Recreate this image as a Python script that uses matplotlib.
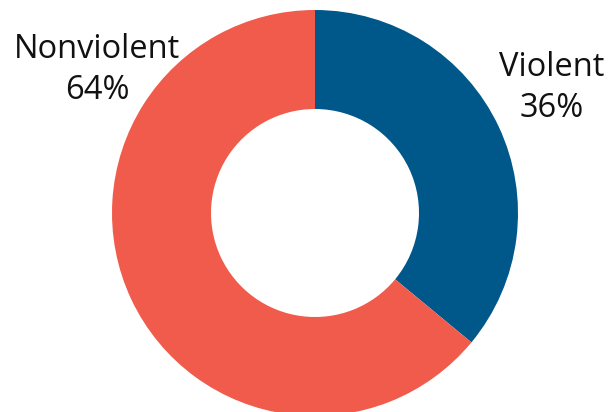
import matplotlib.pyplot as plt

categories = ["Violent", "Nonviolent"]
shares = [36, 64]
colors = ["#00578A", "#F05B4B"]

plt.rcParams['font.family'] = ['Open Sans', 'DejaVu Sans']

fig = plt.figure(figsize=(6.12, 4.12), dpi=100)
ax = fig.add_axes([0, 0, 1, 1])

ax.pie(shares, colors=colors, startangle=90, counterclock=False,
       center=(315, 199), radius=203, frame=True,
       wedgeprops=dict(width=99, linewidth=0))
ax.set_xlim(0, 612)
ax.set_ylim(0, 412)
ax.set_aspect('equal')
ax.axis('off')

label_pos = [(552, 324), (97, 342)]
for name, val, (x, y) in zip(categories, shares, label_pos):
    ax.text(x, y, f"{name}\n{val}%", ha='center', va='center',
            fontsize=23.5, linespacing=1.3, color='#111111')

fig.savefig("out.png", dpi=100)
